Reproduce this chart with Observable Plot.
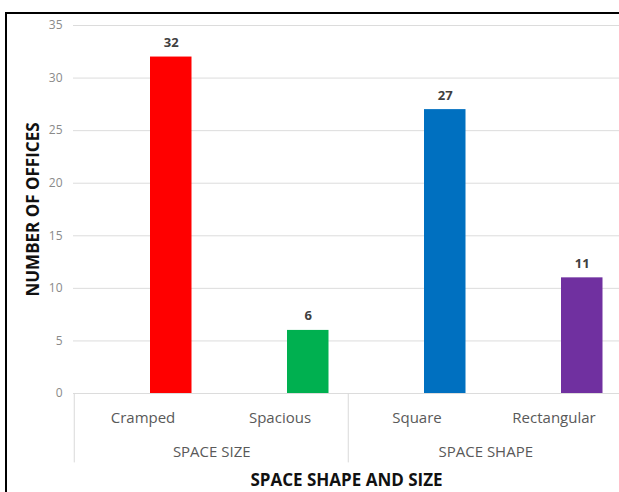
<!DOCTYPE html>
<html>
<head>
<meta charset="utf-8">
<script src="https://cdn.jsdelivr.net/npm/d3@7"></script>
<script src="https://cdn.jsdelivr.net/npm/@observablehq/plot@0.6"></script>
<style>
  html, body { margin: 0; padding: 0; background: #fff; }
  #wrap { position: relative; width: 619px; height: 492px; overflow: hidden; }
  #frame { position: absolute; left: 5px; top: 12px; width: 640px; height: 500px;
           border-top: 2px solid #000; border-left: 2px solid #000; box-sizing: border-box; }
  #chart { position: absolute; left: 0; top: 0; }
</style>
</head>
<body>
<div id="wrap"><div id="frame"></div><div id="chart"></div></div>
<script>
const categories = ["Cramped", "Spacious", "Square", "Rectangular"];
const values = [32, 6, 27, 11];
const barColors = ["#ff0000", "#00b050", "#0070c0", "#7030a0"];
const groupOf = ["SPACE SIZE", "SPACE SIZE", "SPACE SHAPE", "SPACE SHAPE"];
const groupNames = ["SPACE SIZE", "SPACE SHAPE"];
const yTicks = [0, 5, 10, 15, 20, 25, 30, 35];
const xTitle = "SPACE SHAPE AND SIZE";
const yTitle = "NUMBER OF OFFICES";

const data = categories.map((c, i) => ({cat: c, value: values[i], color: barColors[i], group: groupOf[i]}));
const groupStarts = groupNames.map(g => data.find(d => d.group === g));

const xRange = [73, 623];
const step = (xRange[1] - xRange[0]) / categories.length;
const font = "'Open Sans', sans-serif";

const chart = Plot.plot({
  width: 619,
  height: 492,
  marginLeft: 73,
  marginRight: 0,
  marginTop: 25,
  marginBottom: 99,
  style: {fontFamily: font, background: "transparent", overflow: "visible"},
  x: {domain: categories, range: xRange, padding: 0, axis: null},
  y: {domain: [0, 35], axis: null},
  color: {type: "identity"},
  marks: [
    Plot.ruleY(yTicks, {y: d => d, stroke: "#dcdcdc", strokeWidth: 1}),
    Plot.text(yTicks, {y: d => d, text: d => String(d), frameAnchor: "left", dx: -11,
      textAnchor: "end", fontSize: 12, fill: "#8a8a8a"}),
    Plot.barY(data, {x: "cat", y: "value", fill: "color", insetLeft: 76, insetRight: step - 76 - 42}),
    Plot.text(data, {x: "cat", y: "value", text: d => String(d.value), dx: 76 + 21 - step / 2, dy: -10,
      lineAnchor: "bottom", fontSize: 13, fontWeight: "bold", fill: "#404040"}),
    Plot.text(data, {x: "cat", text: "cat", frameAnchor: "bottom", dy: 29, fontSize: 15, fill: "#595959"}),
    Plot.ruleX(groupStarts, {x: "cat", y1: 0, y2: -6.6, dx: -step / 2, stroke: "#d9d9d9", clip: false}),
    Plot.text(groupStarts, {x: "cat", text: "group", frameAnchor: "bottom", textAnchor: "middle",
      dx: step / 2, dy: 63, fontSize: 15, fill: "#595959"}),
    Plot.text([xTitle], {text: d => d, frameAnchor: "bottom", textAnchor: "middle", dy: 92,
      fontSize: 17, fontWeight: "bold", fill: "#111"}),
    Plot.text([yTitle], {text: d => d, frameAnchor: "left", textAnchor: "middle", dx: -40, rotate: -90,
      fontSize: 17, fontWeight: "bold", fill: "#111"})
  ]
});
document.getElementById("chart").appendChild(chart);
</script>
</body>
</html>
